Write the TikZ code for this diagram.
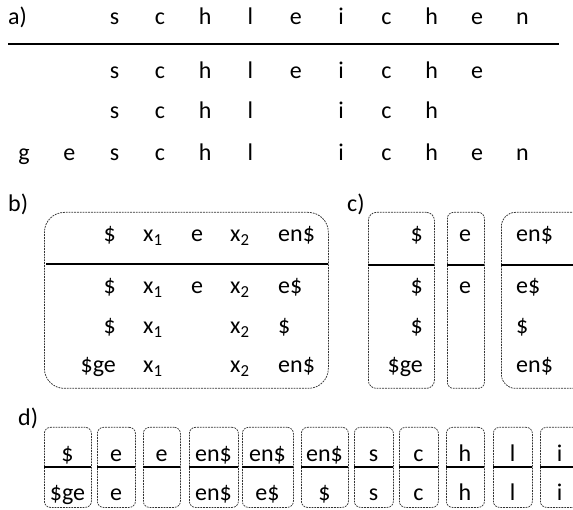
\documentclass[tikz,border=0pt]{standalone}
\usepackage{fontspec}
\setmainfont{Carlito}
\begin{document}
\begin{tikzpicture}[x=1pt,y=-1pt,
  txt/.style={font=\fontsize{24}{28}\selectfont, inner sep=0pt},
  dbox/.style={draw=black!80, line width=0.75pt, dash pattern=on 1.8pt off 1pt, inner sep=0pt, anchor=north west},
  rulel/.style={line width=2.4pt}]
\useasboundingbox (0,0) rectangle (573,510);
\clip (0,0) rectangle (573,510);
% ---------- a)
\node[txt, anchor=base west] (la) at (8,25) {a)};
\foreach \ch [count=\i from 2] in {s,c,h,l,e,i,c,h,e,n}
  \node[txt, anchor=base] (ra\i) at ({24+45.3*\i},25) {\ch};
\coordinate (a1) at (8,44);
\coordinate (a2) at (559,44);
\draw[rulel] (a1) -- (a2);
\foreach \ch [count=\i from 2] in {s,c,h,l,e,i,c,h,e}
  \node[txt, anchor=base] (rb\i) at ({24+45.3*\i},79) {\ch};
\foreach \ch/\i in {s/2,c/3,h/4,l/5,i/7,c/8,h/9}
  \node[txt, anchor=base] (rc\i) at ({24+45.3*\i},119) {\ch};
\foreach \ch/\i in {g/0,e/1,s/2,c/3,h/4,l/5,i/7,c/8,h/9,e/10,n/11}
  \node[txt, anchor=base] (rd\i) at ({24+45.3*\i},161) {\ch};
% ---------- b)
\node[txt, anchor=base west] (lb) at (8,212) {b)};
\node[dbox, rounded corners=20pt, minimum width=284pt, minimum height=176pt] (bbox) at (44,212) {};
\coordinate (b1) at (46,264);
\coordinate (b2) at (328,264);
\draw[rulel] (b1) -- (b2);
\foreach \y/\a/\c/\e [count=\r] in {242/\$/e/en\$, 294/\$/e/e\$, 334/\$//\$, 373/\$ge//en\$}{
  \node[txt, anchor=base east] (bA\r) at (116,\y) {\a};
  \node[txt, anchor=base west] (bB\r) at (143,\y) {x\textsubscript{1}};
  \node[txt, anchor=base] (bC\r) at (197,\y) {\c};
  \node[txt, anchor=base west] (bD\r) at (230,\y) {x\textsubscript{2}};
  \node[txt, anchor=base west] (bE\r) at (278,\y) {\e};
}
% ---------- c)
\node[txt, anchor=base west] (lc) at (347,212) {c)};
\node[dbox, rounded corners=8pt, minimum width=66pt, minimum height=176pt] (cbox1) at (368,212) {};
\node[dbox, rounded corners=6pt, minimum width=37pt, minimum height=176pt] (cbox2) at (447,212) {};
\node[dbox, rounded corners=14pt, minimum width=90pt, minimum height=176pt] (cbox3) at (501,212) {};
\coordinate (c11) at (368,265); \coordinate (c12) at (434,265);
\coordinate (c21) at (447,265); \coordinate (c22) at (484,265);
\coordinate (c31) at (501,265); \coordinate (c32) at (591,265);
\draw[rulel] (c11) -- (c12);
\draw[rulel] (c21) -- (c22);
\draw[rulel] (c31) -- (c32);
\foreach \y/\a/\c/\e [count=\r] in {242/\$/e/en\$, 294/\$/e/e\$, 334/\$//\$, 373/\$ge//en\$}{
  \node[txt, anchor=base east] (cA\r) at (423,\y) {\a};
  \node[txt, anchor=base] (cB\r) at (465,\y) {\c};
  \node[txt, anchor=base west] (cC\r) at (516,\y) {\e};
}
% ---------- d)
\node[txt, anchor=base west] (ld) at (18,425) {d)};
\foreach \xa/\xb/\t/\b [count=\k] in {44/91/\$/\$ge, 97/135/e/e, 143/180/e/, 189/238/en\$/en\$, 242/293/en\$/e\$, 301/348/en\$/\$, 354/393/s/s, 399/438/c/c, 446/484/h/h, 493/532/l/l, 540/579/i/i}{
  \node[dbox, rounded corners=6pt, minimum width={\xb-\xa}, minimum height=80pt] (dbox\k) at (\xa,427) {};
  \coordinate (dl\k) at (\xa,467);
  \coordinate (dr\k) at (\xb,467);
  \draw[rulel] (dl\k) -- (dr\k);
  \node[txt, anchor=base] (dt\k) at ({(\xa+\xb)/2},461) {\t};
  \node[txt, anchor=base] (db\k) at ({(\xa+\xb)/2},500) {\b};
}
\end{tikzpicture}
\end{document}
